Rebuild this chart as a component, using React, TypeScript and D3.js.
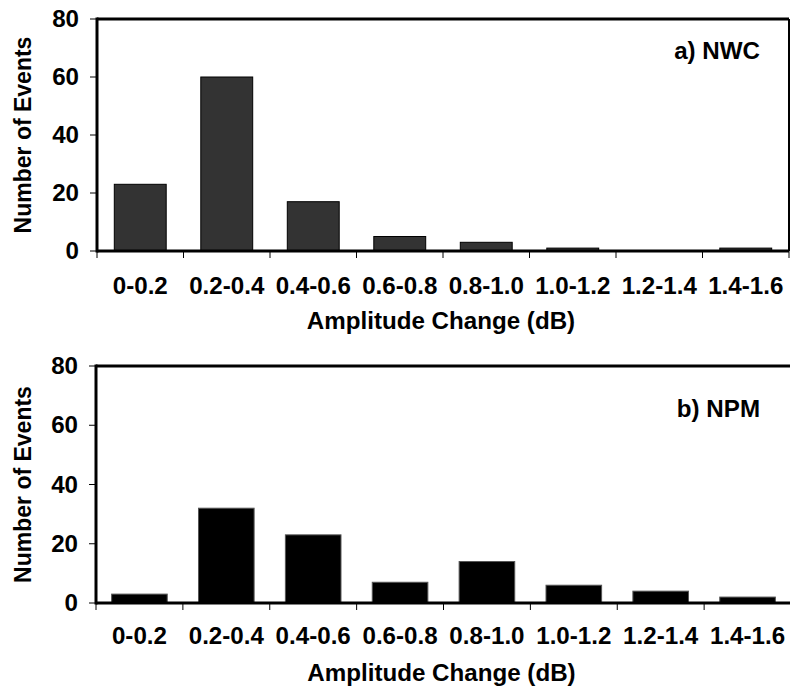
import { useRef, useEffect } from 'react'
import * as d3 from 'd3'

const categories = ['0-0.2', '0.2-0.4', '0.4-0.6', '0.6-0.8', '0.8-1.0', '1.0-1.2', '1.2-1.4', '1.4-1.6']
const nwcCounts = [23, 60, 17, 5, 3, 1, 0, 1]
const npmCounts = [3, 32, 23, 7, 14, 6, 4, 2]
const yTicks = [0, 20, 40, 60, 80]

const FONT = '"Liberation Sans", Arial, Helvetica, sans-serif'
const FS = 23
// the original figure's lettering is a little wider than Arial
const STRETCH = 1.05

type Panel = {
  values: number[]
  label: string
  left: number
  right: number
  top: number
  bottom: number
  padding: number
  fill: string
  stroke: string
  rightBorder: boolean
  labelY: number
  titleY: number
  tagY: number
}

const panels: Panel[] = [
  { values: nwcCounts, label: 'a) NWC', left: 97, right: 789, top: 19, bottom: 251, padding: 0.4,
    fill: '#333333', stroke: '#000', rightBorder: true, labelY: 294, titleY: 329, tagY: 59 },
  { values: npmCounts, label: 'b) NPM', left: 96, right: 791, top: 366, bottom: 603, padding: 0.36,
    fill: '#000000', stroke: '#555', rightBorder: false, labelY: 644, titleY: 681, tagY: 417 },
]

type Sel = d3.Selection<SVGGElement, unknown, null, undefined>

function label(g: Sel, x: number, y: number, text: string, anchor: string, rotate = 0, sx = STRETCH) {
  g.append('g').attr('transform', `translate(${x},${y}) rotate(${rotate}) scale(${sx},1)`)
    .append('text')
    .attr('text-anchor', anchor)
    .attr('font-family', FONT).attr('font-size', FS).attr('font-weight', 'bold').attr('fill', '#000')
    .text(text)
}

export default function App() {
  const ref = useRef<SVGSVGElement | null>(null)

  useEffect(() => {
    if (!ref.current) return
    const svg = d3.select(ref.current)
    svg.selectAll('*').remove()

    panels.forEach(p => {
      const x = d3.scaleBand<string>().domain(categories).range([p.left, p.right])
        .paddingInner(p.padding).paddingOuter(p.padding / 2)
      const y = d3.scaleLinear().domain([0, 80]).range([p.bottom, p.top])
      const g = svg.append('g') as Sel

      // bars
      g.selectAll('rect.bar').data(p.values).enter().append('rect')
        .attr('class', 'bar')
        .attr('x', (_, i) => x(categories[i])!)
        .attr('width', x.bandwidth())
        .attr('y', d => y(d))
        .attr('height', d => y(0) - y(d))
        .attr('fill', p.fill)
        .attr('stroke', p.stroke).attr('stroke-width', 1)

      // frame: top + right border
      g.append('line').attr('x1', p.left).attr('x2', p.right)
        .attr('y1', p.top).attr('y2', p.top)
        .attr('stroke', '#000').attr('stroke-width', 3)
      if (p.rightBorder) {
        g.append('line').attr('x1', p.right).attr('x2', p.right)
          .attr('y1', p.top).attr('y2', p.bottom)
          .attr('stroke', '#000').attr('stroke-width', 2)
      }

      // y axis
      g.append('line').attr('x1', p.left).attr('x2', p.left)
        .attr('y1', p.top - 1.5).attr('y2', p.bottom + 1.5)
        .attr('stroke', '#000').attr('stroke-width', 3)
      g.selectAll('line.ytick').data(yTicks).enter().append('line')
        .attr('class', 'ytick')
        .attr('x1', p.left - 7).attr('x2', p.left)
        .attr('y1', d => y(d)).attr('y2', d => y(d))
        .attr('stroke', '#000').attr('stroke-width', 1)
      yTicks.forEach(t => label(g, p.left - 18, y(t) + 8, String(t), 'end'))

      // x axis baseline + boundary ticks
      g.append('line').attr('x1', p.left).attr('x2', p.right)
        .attr('y1', y(0)).attr('y2', y(0))
        .attr('stroke', '#000').attr('stroke-width', 3)
      const gap = (x.step() - x.bandwidth()) / 2
      const bounds = categories.map(c => x(c)! - gap)
      bounds.push(bounds[bounds.length - 1] + x.step())
      g.selectAll('line.xtick').data(bounds).enter().append('line')
        .attr('class', 'xtick')
        .attr('x1', d => d).attr('x2', d => d)
        .attr('y1', y(0)).attr('y2', y(0) + 7)
        .attr('stroke', '#000').attr('stroke-width', 1)

      categories.forEach(c => label(g, x(c)! + x.bandwidth() / 2, p.labelY, c, 'middle'))

      // axis titles
      label(g, (p.left + p.right) / 2 - 2, p.titleY, 'Amplitude Change (dB)', 'middle')
      label(g, 31, (p.top + p.bottom) / 2, 'Number of Events', 'middle', -90, 1)

      // panel tag
      label(g, 760, p.tagY, p.label, 'end')
    })
  }, [])

  return (
    <div style={{ position: 'absolute', left: 0, top: 0 }}>
      <svg ref={ref} width={790} height={689} style={{ display: 'block', background: '#fff' }} />
    </div>
  )
}
